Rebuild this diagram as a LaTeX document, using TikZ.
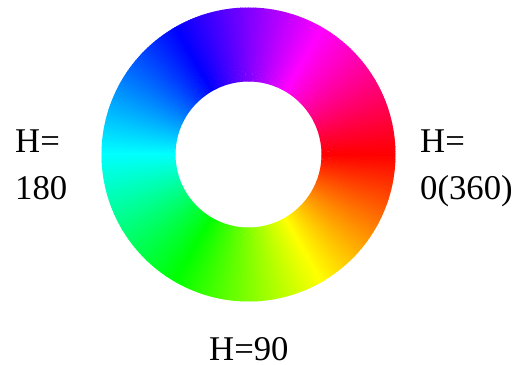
\documentclass[tikz,border=0pt]{standalone}
\usepackage{fontspec}
\setmainfont{Liberation Serif}
\begin{document}
\begin{tikzpicture}[x=1pt,y=1pt,
  lbl/.style={inner sep=0pt,anchor=base west,font=\fontsize{34.7}{40}\selectfont}]
\useasboundingbox (0,0) rectangle (521,364);
\coordinate (C) at (248.5,209.5);
\foreach \h in {0,...,359} {
  \definecolor{huec}{Hsb}{\h,1,1}
  \fill[huec, shift={(C)}] (-\h+0.3:73pt) -- (-\h+0.3:147pt)
    arc[start angle=-\h+0.3, end angle=-\h-1.0, radius=147pt]
    -- (-\h-1.0:73pt)
    arc[start angle=-\h-1.0, end angle=-\h+0.3, radius=73pt] -- cycle;
}
\node[lbl] (lh) at (15,211) {H=};
\node[lbl] (lv) at (15,164) {180};
\node[lbl] (rh) at (420,211) {H=};
\node[lbl] (rv) at (420,164) {0(360)};
\node[lbl] (bh) at (209,4) {H=90};
\end{tikzpicture}
\end{document}
